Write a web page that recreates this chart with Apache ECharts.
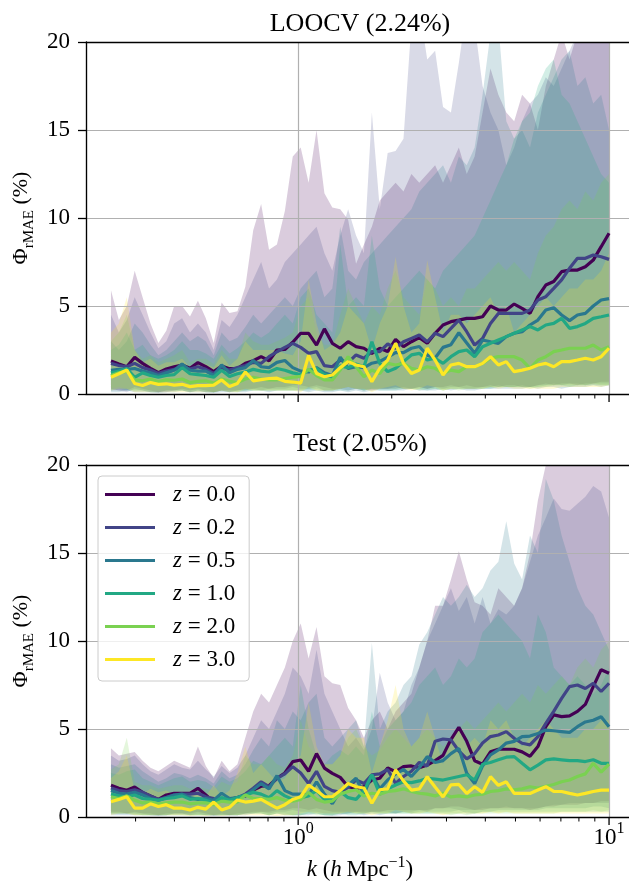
<!DOCTYPE html>
<html>
<head>
<meta charset="utf-8">
<title>rMAE versus k</title>
<script src="https://cdn.jsdelivr.net/npm/echarts@6/dist/echarts.min.js"></script>
<style>
  html, body { margin: 0; padding: 0; background: #ffffff; overflow: hidden; }
  #chart { width: 640px; height: 888px; }
</style>
</head>
<body>
<div id="chart"></div>
<script>
// Wavenumbers k in h/Mpc (64 log-spaced bins from 0.25 to 10)
const kValues = [
  0.2500, 0.2651, 0.2811, 0.2980, 0.3160, 0.3350, 0.3552, 0.3766,
  0.3993, 0.4234, 0.4489, 0.4760, 0.5047, 0.5351, 0.5674, 0.6016,
  0.6378, 0.6763, 0.7170, 0.7603, 0.8061, 0.8547, 0.9063, 0.9609,
  1.0191, 1.0806, 1.1458, 1.2148, 1.2881, 1.3658, 1.4481, 1.5355,
  1.6281, 1.7263, 1.8304, 1.9408, 2.0578, 2.1819, 2.3135, 2.4530,
  2.6010, 2.7578, 2.9242, 3.1005, 3.2875, 3.4857, 3.6960, 3.9188,
  4.1552, 4.4058, 4.6715, 4.9532, 5.2519, 5.5686, 5.9044, 6.2605,
  6.6380, 7.0383, 7.4628, 7.9128, 8.3900, 8.8960, 9.4325, 10.0000
];

const redshiftNames = ['z = 0.0', 'z = 0.2', 'z = 0.5', 'z = 1.0', 'z = 2.0', 'z = 3.0'];
const redshiftColors = ['#440154', '#414487', '#2a788e', '#22a884', '#7ad151', '#fde725'];

const panelTitles = ['LOOCV (2.24%)', 'Test (2.05%)'];

// x tick positions (log axis)
const xMajorTicks = [1, 10];
const xMinorTicks = [0.3, 0.4, 0.5, 0.6, 0.7, 0.8, 0.9, 2, 3, 4, 5, 6, 7, 8, 9];

// ---------- LOOCV: mean rMAE per redshift (%) ----------
const loocvZ00 = [
  1.88, 1.70, 1.55, 2.08, 1.74, 1.46, 1.21, 1.42,
  1.55, 1.65, 1.46, 1.78, 1.55, 1.27, 1.59, 1.44,
  1.44, 1.74, 1.89, 2.12, 1.89, 2.50, 2.53, 2.94,
  3.45, 3.45, 2.78, 3.70, 2.88, 2.60, 2.97, 2.69,
  2.60, 2.31, 2.60, 2.41, 3.10, 2.69, 2.97, 3.20,
  2.88, 3.45, 3.92, 4.11, 4.20, 4.30, 4.30, 4.39,
  5.00, 4.77, 4.77, 5.11, 4.87, 4.58, 5.53, 6.19,
  6.39, 6.95, 7.04, 7.04, 7.23, 7.61, 8.37, 9.13
];
const loocvZ02 = [
  1.74, 1.62, 1.55, 1.74, 1.50, 1.36, 1.17, 1.30,
  1.40, 1.50, 1.42, 1.55, 1.40, 1.17, 1.45, 1.36,
  1.50, 1.62, 1.80, 1.74, 2.12, 2.40, 2.65, 2.88,
  2.65, 2.31, 2.41, 1.61, 1.55, 1.93, 1.78, 2.22,
  2.03, 2.41, 2.41, 2.84, 2.60, 2.97, 3.16, 3.35,
  2.97, 3.45, 3.26, 3.73, 4.20, 3.54, 2.78, 3.16,
  4.01, 4.58, 4.58, 4.58, 4.58, 4.77, 5.34, 5.53,
  6.00, 6.48, 7.14, 7.71, 7.71, 7.90, 7.80, 7.65
];
const loocvZ05 = [
  1.35, 1.40, 1.40, 1.45, 1.30, 1.20, 1.05, 1.20,
  1.35, 1.70, 1.35, 1.30, 1.30, 1.05, 1.65, 1.20,
  1.40, 1.50, 1.90, 1.55, 1.50, 1.80, 1.90, 1.50,
  1.30, 1.25, 1.50, 1.20, 1.05, 2.10, 1.45, 1.55,
  1.50, 1.75, 1.85, 2.10, 2.35, 2.35, 2.60, 2.70,
  2.20, 2.05, 2.65, 2.80, 3.48, 2.90, 2.31, 3.07,
  2.97, 2.88, 3.26, 3.45, 3.54, 3.92, 4.20, 4.77,
  4.90, 4.49, 4.17, 4.49, 4.58, 5.00, 5.34, 5.42
];
const loocvZ10 = [
  1.20, 1.30, 1.45, 0.95, 1.20, 1.05, 0.95, 1.05,
  1.10, 1.50, 1.15, 1.10, 1.05, 0.95, 1.35, 1.00,
  1.15, 1.25, 1.40, 1.30, 1.25, 1.45, 1.35, 1.20,
  1.10, 1.35, 1.45, 1.10, 0.95, 1.60, 1.50, 1.70,
  1.55, 2.97, 1.74, 1.27, 1.46, 1.84, 2.22, 2.31,
  1.93, 2.03, 1.74, 2.12, 2.41, 2.50, 2.12, 2.69,
  2.88, 3.07, 3.26, 3.45, 3.64, 3.83, 3.64, 3.92,
  4.01, 4.30, 3.73, 3.83, 4.01, 4.30, 4.39, 4.49
];
const loocvZ20 = [
  1.05, 1.20, 1.30, 0.80, 0.75, 0.85, 0.70, 0.80,
  0.78, 0.85, 0.65, 0.72, 0.75, 0.62, 0.85, 0.72,
  0.65, 0.85, 0.95, 0.85, 0.80, 0.80, 0.88, 0.95,
  1.00, 1.40, 1.05, 0.80, 0.80, 1.36, 2.12, 1.55,
  0.98, 1.36, 1.17, 1.74, 1.65, 1.74, 1.46, 1.36,
  1.55, 1.46, 1.17, 1.36, 1.27, 1.55, 1.55, 1.74,
  2.03, 2.12, 2.12, 2.12, 1.93, 1.46, 1.93, 2.12,
  2.41, 2.50, 2.60, 2.60, 2.60, 2.78, 2.50, 2.69
];
const loocvZ30 = [
  0.95, 1.15, 1.36, 0.60, 0.48, 0.65, 0.55, 0.58,
  0.50, 0.55, 0.42, 0.48, 0.48, 0.50, 0.80, 0.42,
  0.60, 1.25, 0.75, 0.82, 0.88, 0.90, 0.72, 0.68,
  0.62, 2.20, 1.17, 0.98, 1.08, 1.50, 1.84, 1.65,
  1.55, 0.70, 1.46, 1.93, 2.88, 1.74, 1.17, 1.36,
  2.60, 1.93, 1.08, 1.65, 1.74, 1.55, 1.55, 1.74,
  2.12, 1.65, 1.84, 1.27, 1.36, 1.46, 1.65, 1.74,
  1.55, 1.84, 1.84, 1.93, 2.03, 1.93, 2.12, 2.60
];

// LOOCV: upper edge of the spread per redshift (%)
const loocvHiZ00 = [
  5.9, 4.2, 5.0, 7.0, 5.5, 4.0, 2.9, 3.6,
  5.0, 5.0, 4.4, 5.3, 4.3, 2.9, 5.2, 4.6,
  4.7, 6.1, 9.3, 10.8, 8.2, 8.5, 10.4, 13.5,
  14.0, 12.0, 15.0, 11.4, 10.6, 10.5, 9.9, 7.4,
  8.5, 9.5, 11.0, 11.5, 12.0, 11.5, 12.5, 12.0,
  12.5, 13.0, 12.0, 13.0, 14.0, 12.5, 13.5, 16.0,
  18.5, 17.0, 16.0, 15.5, 17.0, 16.5, 15.0, 17.5,
  19.0, 20.5, 19.0, 20.5, 22.0, 21.0, 23.0, 24.0
];
const loocvHiZ02 = [
  4.5, 3.5, 4.2, 5.5, 4.5, 3.5, 2.6, 3.0,
  4.0, 4.3, 3.5, 4.0, 3.5, 2.5, 4.2, 3.8,
  4.5, 5.5, 6.5, 7.5, 6.0, 6.5, 7.5, 8.0,
  8.5, 9.0, 9.5, 8.0, 7.0, 9.0, 10.5, 9.0,
  8.0, 16.0, 10.5, 13.7, 13.8, 14.5, 21.0, 22.0,
  19.0, 19.5, 16.3, 16.0, 18.8, 22.0, 21.0, 17.5,
  16.0, 15.0, 13.0, 14.0, 15.5, 16.5, 17.0, 18.0,
  17.5, 18.5, 19.5, 20.5, 21.0, 22.0, 22.0, 21.0
];
const loocvHiZ05 = [
  3.0, 2.5, 3.0, 4.0, 3.5, 2.8, 2.2, 2.5,
  3.0, 3.5, 3.0, 3.3, 3.0, 2.2, 3.5, 3.0,
  3.2, 3.8, 4.5, 4.0, 4.5, 5.0, 5.5, 5.0,
  6.0, 6.5, 7.0, 5.5, 6.0, 9.5, 7.0, 6.5,
  7.5, 8.0, 8.5, 9.0, 9.5, 10.0, 10.5, 11.5,
  12.0, 12.5, 13.0, 12.0, 13.5, 13.0, 14.0, 17.0,
  20.5, 21.0, 15.5, 14.5, 15.0, 14.0, 16.0, 17.0,
  18.0, 19.0, 19.5, 17.5, 18.0, 16.5, 17.0, 15.0
];
const loocvHiZ10 = [
  2.5, 2.8, 3.5, 2.5, 2.8, 2.2, 2.0, 2.2,
  2.5, 3.0, 2.5, 2.5, 2.3, 2.0, 2.8, 2.3,
  2.6, 3.0, 3.5, 3.2, 3.5, 4.0, 4.5, 4.0,
  5.5, 6.0, 4.5, 4.0, 3.5, 8.5, 5.0, 5.5,
  5.0, 9.0, 6.0, 5.0, 5.5, 6.0, 6.5, 7.0,
  6.5, 6.0, 7.0, 7.5, 8.0, 8.5, 9.0, 10.0,
  11.0, 12.0, 13.0, 14.5, 15.5, 16.0, 17.5, 18.5,
  19.0, 17.0, 16.5, 15.5, 14.5, 13.5, 12.5, 12.0
];
const loocvHiZ20 = [
  3.0, 3.5, 4.5, 2.5, 2.0, 2.2, 1.8, 2.0,
  2.2, 2.5, 1.8, 2.0, 2.0, 1.7, 2.5, 2.0,
  2.0, 3.5, 3.0, 2.8, 2.8, 3.0, 3.2, 3.5,
  5.0, 5.5, 3.5, 2.8, 2.8, 4.5, 6.0, 5.0,
  4.0, 5.0, 4.5, 6.0, 7.0, 5.5, 5.0, 4.5,
  6.5, 6.0, 5.0, 5.5, 5.0, 6.0, 6.0, 6.5,
  7.0, 7.5, 7.0, 7.5, 7.0, 6.5, 8.0, 9.0,
  9.5, 10.5, 11.0, 10.5, 11.5, 11.0, 12.0, 12.5
];
const loocvHiZ30 = [
  3.5, 4.0, 5.5, 2.5, 1.8, 2.0, 1.6, 1.8,
  1.8, 2.0, 1.5, 1.8, 1.7, 1.5, 2.2, 1.6,
  2.0, 3.0, 2.5, 2.5, 2.5, 2.5, 2.3, 2.2,
  3.0, 6.5, 4.0, 2.5, 2.8, 3.5, 5.0, 4.5,
  4.0, 2.5, 4.0, 5.0, 7.8, 5.0, 3.5, 4.0,
  7.6, 5.5, 3.5, 4.5, 4.5, 4.0, 4.5, 5.0,
  5.5, 4.5, 5.0, 3.5, 4.0, 4.5, 5.0, 5.5,
  5.0, 5.5, 6.0, 6.0, 6.5, 6.5, 7.0, 8.0
];

// LOOCV: lower edge of the spread per redshift (%)
const loocvLoZ00 = [
  0.3, 0.2, 0.2, 0.4, 0.3, 0.2, 0.1, 0.2,
  0.2, 0.3, 0.2, 0.3, 0.2, 0.1, 0.2, 0.2,
  0.2, 0.3, 0.3, 0.4, 0.3, 0.4, 0.4, 0.5,
  0.5, 0.4, 0.5, 0.4, 0.3, 0.3, 0.4, 0.3,
  0.3, 0.2, 0.3, 0.3, 0.4, 0.3, 0.3, 0.4,
  0.3, 0.4, 0.4, 0.5, 0.4, 0.5, 0.4, 0.4,
  0.5, 0.4, 0.5, 0.5, 0.4, 0.4, 0.5, 0.6,
  0.5, 0.6, 0.6, 0.5, 0.6, 0.6, 0.7, 0.7
];
const loocvLoZ02 = [
  0.2, 0.2, 0.1, 0.3, 0.2, 0.1, 0.1, 0.1,
  0.2, 0.2, 0.1, 0.2, 0.1, 0.1, 0.2, 0.1,
  0.2, 0.2, 0.3, 0.2, 0.3, 0.3, 0.3, 0.4,
  0.3, 0.3, 0.4, 0.2, 0.2, 0.3, 0.2, 0.3,
  0.2, 0.3, 0.3, 0.3, 0.3, 0.4, 0.3, 0.4,
  0.3, 0.4, 0.3, 0.4, 0.4, 0.3, 0.3, 0.4,
  0.4, 0.5, 0.4, 0.4, 0.5, 0.4, 0.5, 0.5,
  0.6, 0.5, 0.6, 0.6, 0.5, 0.6, 0.6, 0.6
];
const loocvLoZ05 = [
  0.10, 0.10, 0.20, 0.10, 0.10, 0.10, 0.05, 0.10,
  0.10, 0.20, 0.10, 0.10, 0.10, 0.05, 0.10, 0.10,
  0.10, 0.10, 0.20, 0.20, 0.10, 0.20, 0.20, 0.20,
  0.20, 0.10, 0.20, 0.10, 0.10, 0.20, 0.10, 0.20,
  0.10, 0.20, 0.20, 0.20, 0.20, 0.20, 0.30, 0.20,
  0.20, 0.20, 0.30, 0.20, 0.30, 0.20, 0.20, 0.30,
  0.30, 0.30, 0.30, 0.30, 0.30, 0.40, 0.30, 0.40,
  0.40, 0.30, 0.40, 0.40, 0.40, 0.50, 0.40, 0.50
];
const loocvLoZ10 = [
  0.2, 0.3, 0.2, 0.2, 0.2, 0.1, 0.1, 0.2,
  0.2, 0.2, 0.1, 0.2, 0.1, 0.1, 0.2, 0.1,
  0.2, 0.2, 0.2, 0.2, 0.2, 0.2, 0.2, 0.2,
  0.2, 0.2, 0.3, 0.2, 0.2, 0.2, 0.2, 0.3,
  0.2, 0.3, 0.2, 0.2, 0.2, 0.3, 0.3, 0.3,
  0.2, 0.3, 0.2, 0.3, 0.3, 0.3, 0.3, 0.3,
  0.3, 0.4, 0.4, 0.4, 0.4, 0.4, 0.4, 0.5,
  0.5, 0.5, 0.4, 0.5, 0.5, 0.5, 0.5, 0.5
];
const loocvLoZ20 = [
  0.3, 0.4, 0.3, 0.2, 0.2, 0.2, 0.2, 0.2,
  0.2, 0.2, 0.2, 0.2, 0.2, 0.1, 0.2, 0.2,
  0.1, 0.2, 0.2, 0.2, 0.2, 0.2, 0.2, 0.2,
  0.2, 0.3, 0.2, 0.2, 0.2, 0.3, 0.4, 0.3,
  0.2, 0.3, 0.3, 0.3, 0.3, 0.3, 0.3, 0.2,
  0.3, 0.3, 0.2, 0.3, 0.2, 0.3, 0.3, 0.3,
  0.4, 0.4, 0.4, 0.4, 0.4, 0.3, 0.4, 0.4,
  0.5, 0.5, 0.5, 0.5, 0.5, 0.6, 0.5, 0.5
];
const loocvLoZ30 = [
  0.2, 0.3, 0.3, 0.1, 0.1, 0.1, 0.1, 0.1,
  0.1, 0.1, 0.1, 0.1, 0.1, 0.1, 0.2, 0.1,
  0.1, 0.3, 0.2, 0.2, 0.2, 0.2, 0.2, 0.2,
  0.1, 0.4, 0.2, 0.2, 0.2, 0.3, 0.4, 0.3,
  0.3, 0.1, 0.3, 0.4, 0.5, 0.3, 0.2, 0.3,
  0.5, 0.4, 0.2, 0.3, 0.3, 0.3, 0.3, 0.3,
  0.4, 0.3, 0.4, 0.3, 0.3, 0.3, 0.3, 0.3,
  0.3, 0.4, 0.4, 0.4, 0.4, 0.4, 0.4, 0.5
];

// ---------- Test set: mean rMAE per redshift (%) ----------
const testZ00 = [
  1.80, 1.63, 1.52, 1.70, 1.40, 1.20, 1.00, 1.25,
  1.35, 1.34, 1.35, 1.63, 1.25, 0.85, 1.05, 0.95,
  1.10, 1.20, 1.53, 1.75, 1.78, 2.20, 2.50, 3.15,
  3.24, 2.60, 3.60, 2.78, 2.48, 2.25, 1.72, 1.63,
  1.72, 2.10, 2.20, 2.78, 2.58, 2.86, 2.90, 2.80,
  2.95, 3.20, 3.50, 4.40, 5.10, 4.30, 3.20, 3.00,
  3.70, 3.85, 3.85, 3.85, 3.70, 3.45, 4.00, 5.13,
  5.80, 5.70, 5.75, 6.00, 6.40, 7.41, 8.37, 8.17
];
const testZ02 = [
  1.65, 1.50, 1.45, 1.55, 1.40, 1.20, 1.00, 1.10,
  1.25, 1.30, 1.30, 1.35, 1.15, 1.05, 1.00, 1.00,
  1.10, 1.30, 1.63, 2.00, 1.72, 2.20, 2.45, 2.86,
  2.50, 1.90, 2.60, 1.74, 1.50, 1.40, 1.70, 2.10,
  1.90, 2.40, 2.45, 2.70, 1.90, 2.30, 2.60, 3.10,
  2.90, 4.30, 4.43, 4.38, 3.75, 3.30, 3.60, 4.20,
  4.57, 4.66, 4.85, 4.47, 4.19, 4.10, 4.57, 5.32,
  6.00, 6.74, 7.41, 7.50, 7.30, 7.60, 7.13, 7.60
];
const testZ05 = [
  1.50, 1.35, 1.30, 1.40, 1.25, 1.05, 0.95, 1.10,
  1.25, 1.30, 1.10, 1.00, 1.05, 0.95, 1.35, 1.05,
  1.10, 1.20, 1.55, 1.90, 1.60, 2.35, 1.50, 1.30,
  1.30, 1.25, 2.00, 1.30, 0.75, 1.50, 1.80, 2.20,
  1.30, 2.40, 1.60, 2.10, 2.45, 2.70, 2.30, 2.80,
  3.43, 3.10, 3.20, 3.60, 3.90, 2.48, 1.90, 2.90,
  3.53, 3.81, 4.20, 4.30, 4.57, 4.60, 4.75, 4.94,
  4.90, 4.85, 4.80, 5.13, 5.40, 5.50, 5.70, 5.13
];
const testZ10 = [
  1.30, 1.20, 1.15, 1.25, 1.05, 1.00, 0.95, 1.05,
  1.10, 1.20, 1.00, 1.05, 0.95, 0.80, 1.10, 0.95,
  1.10, 1.25, 1.40, 1.30, 1.10, 1.50, 1.20, 1.00,
  1.10, 1.20, 1.50, 1.00, 1.05, 1.45, 1.10, 1.00,
  1.50, 2.40, 1.30, 1.60, 1.82, 2.00, 1.95, 2.05,
  2.20, 2.15, 2.10, 2.20, 2.30, 2.40, 2.10, 3.00,
  3.10, 3.25, 3.40, 3.43, 3.05, 2.68, 2.95, 3.25,
  3.30, 3.25, 3.20, 3.20, 3.15, 3.25, 3.05, 3.05
];
const testZ20 = [
  1.15, 1.05, 1.20, 0.95, 0.80, 0.85, 0.75, 0.80,
  0.85, 0.85, 0.75, 0.80, 0.80, 0.70, 0.90, 0.85,
  0.85, 1.25, 1.05, 1.05, 1.00, 1.10, 0.95, 0.90,
  1.00, 1.40, 1.00, 0.85, 0.90, 1.30, 1.45, 1.55,
  1.20, 1.35, 1.30, 1.45, 1.50, 1.60, 1.45, 1.35,
  1.30, 1.20, 1.35, 1.14, 1.20, 1.14, 1.25, 1.30,
  1.45, 1.50, 1.60, 1.55, 1.60, 1.72, 1.65, 1.75,
  1.85, 2.00, 2.10, 2.30, 2.45, 3.05, 2.55, 3.00
];
const testZ30 = [
  0.87, 1.00, 1.15, 0.50, 0.50, 0.75, 0.60, 0.70,
  0.50, 0.50, 0.40, 0.55, 0.45, 0.85, 0.40, 0.55,
  0.97, 0.85, 0.90, 1.00, 0.75, 0.50, 0.70, 1.00,
  1.15, 1.82, 1.50, 1.15, 1.15, 1.50, 1.90, 1.72,
  1.65, 0.78, 1.55, 1.60, 2.68, 2.05, 1.53, 1.60,
  2.29, 1.70, 1.14, 1.82, 1.85, 1.34, 1.72, 1.40,
  2.29, 1.80, 2.00, 1.34, 1.34, 1.34, 1.53, 1.72,
  1.45, 1.45, 1.34, 1.25, 1.34, 1.45, 1.53, 1.53
];

// Test set: upper edge of the spread per redshift (%)
const testHiZ00 = [
  3.9, 3.5, 3.6, 3.7, 3.2, 2.8, 2.6, 2.9,
  3.2, 3.0, 2.8, 4.0, 2.9, 2.2, 3.2, 2.6,
  3.0, 4.5, 6.0, 7.0, 6.5, 7.5, 8.5, 10.0,
  11.0, 9.0, 10.8, 8.0, 7.6, 7.5, 6.2, 5.5,
  4.5, 5.5, 6.0, 5.0, 6.0, 6.5, 7.0, 8.5,
  10.0, 12.0, 12.0, 13.5, 15.1, 13.5, 12.2, 12.0,
  11.5, 13.0, 12.5, 12.0, 13.0, 15.0, 18.0, 20.0,
  21.0, 22.0, 23.0, 24.0, 25.0, 24.0, 23.0, 22.0
];
const testHiZ02 = [
  3.5, 3.2, 3.3, 3.5, 3.0, 2.6, 2.4, 2.7,
  3.0, 2.8, 2.7, 3.2, 2.7, 2.3, 2.9, 2.5,
  2.8, 3.5, 4.5, 5.5, 5.0, 6.0, 7.0, 8.5,
  8.0, 7.0, 9.5, 7.0, 6.0, 5.0, 4.0, 4.5,
  3.8, 5.0, 8.2, 6.5, 5.5, 6.0, 7.5, 8.5,
  10.0, 11.0, 12.0, 13.0, 11.7, 12.5, 11.0, 12.5,
  11.0, 11.8, 11.5, 12.0, 13.0, 14.5, 16.0, 17.0,
  18.1, 17.5, 17.4, 17.8, 18.2, 18.8, 18.5, 17.0
];
const testHiZ05 = [
  3.0, 2.8, 2.9, 3.0, 2.6, 2.3, 2.0, 2.2,
  2.5, 2.4, 2.2, 2.4, 2.2, 1.9, 2.6, 2.2,
  2.4, 3.0, 3.8, 4.5, 4.0, 5.5, 5.0, 6.0,
  5.5, 6.5, 7.0, 4.5, 4.0, 4.5, 5.0, 5.5,
  4.0, 9.9, 5.0, 6.0, 6.5, 7.5, 8.0, 9.8,
  10.5, 11.5, 12.5, 12.0, 12.5, 13.2, 12.5, 13.0,
  14.0, 14.5, 16.8, 14.4, 13.5, 16.0, 15.0, 19.2,
  18.0, 16.0, 14.5, 13.0, 12.0, 11.5, 10.5, 9.5
];
const testHiZ10 = [
  2.5, 2.4, 2.6, 2.7, 2.2, 2.0, 1.8, 2.0,
  2.2, 2.3, 2.0, 2.1, 2.0, 1.7, 2.3, 2.0,
  2.2, 2.6, 3.2, 3.0, 3.5, 4.0, 4.5, 4.0,
  7.5, 5.0, 3.5, 3.0, 3.5, 3.8, 3.5, 4.0,
  3.5, 6.0, 4.0, 5.0, 5.5, 6.0, 6.5, 7.5,
  8.0, 8.5, 7.5, 8.0, 9.0, 8.5, 9.0, 10.5,
  11.0, 11.5, 11.0, 10.5, 10.0, 9.0, 11.5, 10.5,
  8.5, 8.0, 7.5, 8.0, 7.5, 7.0, 7.5, 8.5
];
const testHiZ20 = [
  2.7, 3.0, 4.5, 2.0, 1.8, 1.8, 1.6, 1.7,
  1.8, 1.8, 1.6, 1.7, 1.6, 1.5, 2.0, 1.8,
  2.0, 3.5, 3.0, 3.0, 3.5, 3.0, 2.8, 3.5,
  5.5, 4.0, 3.5, 3.0, 3.0, 3.5, 4.5, 5.0,
  4.0, 3.5, 3.8, 4.5, 5.0, 4.5, 4.0, 4.5,
  5.0, 4.5, 4.0, 4.5, 5.0, 5.5, 5.0, 5.5,
  6.0, 6.5, 6.0, 6.5, 7.0, 6.5, 7.5, 7.0,
  7.5, 8.0, 7.5, 8.5, 9.0, 8.5, 9.5, 10.0
];
const testHiZ30 = [
  2.2, 2.6, 3.5, 1.5, 1.3, 1.6, 1.4, 1.5,
  1.3, 1.4, 1.2, 1.4, 1.2, 1.8, 1.2, 1.5,
  2.5, 4.0, 2.5, 3.0, 2.5, 2.0, 2.2, 3.0,
  3.5, 6.5, 4.0, 3.0, 3.0, 3.5, 5.0, 4.5,
  4.5, 2.5, 4.0, 5.5, 7.5, 5.0, 4.0, 4.5,
  6.0, 4.5, 3.0, 4.5, 5.0, 4.0, 4.5, 4.0,
  5.5, 5.0, 5.5, 4.5, 4.0, 4.5, 5.0, 5.5,
  5.0, 4.5, 4.5, 4.5, 5.0, 5.0, 5.5, 5.5
];

// Test set: lower edge of the spread per redshift (%)
const testLoZ00 = [
  0.3, 0.3, 0.2, 0.3, 0.2, 0.2, 0.1, 0.2,
  0.2, 0.2, 0.2, 0.3, 0.2, 0.1, 0.2, 0.1,
  0.2, 0.2, 0.3, 0.3, 0.3, 0.4, 0.4, 0.5,
  0.5, 0.4, 0.5, 0.4, 0.3, 0.3, 0.3, 0.3,
  0.3, 0.3, 0.3, 0.4, 0.4, 0.4, 0.4, 0.4,
  0.4, 0.5, 0.5, 0.6, 0.6, 0.5, 0.4, 0.4,
  0.5, 0.5, 0.5, 0.5, 0.5, 0.4, 0.5, 0.6,
  0.6, 0.7, 0.7, 0.7, 0.8, 0.8, 0.9, 0.9
];
const testLoZ02 = [
  0.2, 0.2, 0.2, 0.2, 0.2, 0.1, 0.1, 0.1,
  0.2, 0.2, 0.1, 0.2, 0.1, 0.1, 0.1, 0.1,
  0.1, 0.2, 0.2, 0.3, 0.2, 0.3, 0.3, 0.4,
  0.3, 0.3, 0.3, 0.2, 0.2, 0.2, 0.2, 0.3,
  0.2, 0.3, 0.3, 0.3, 0.2, 0.3, 0.3, 0.4,
  0.3, 0.5, 0.5, 0.5, 0.4, 0.4, 0.4, 0.5,
  0.5, 0.5, 0.6, 0.5, 0.5, 0.5, 0.5, 0.6,
  0.7, 0.7, 0.8, 0.8, 0.8, 0.8, 0.8, 0.8
];
const testLoZ05 = [
  0.10, 0.10, 0.10, 0.10, 0.10, 0.10, 0.05, 0.10,
  0.10, 0.10, 0.10, 0.10, 0.10, 0.05, 0.10, 0.10,
  0.10, 0.10, 0.20, 0.20, 0.10, 0.20, 0.10, 0.10,
  0.10, 0.10, 0.20, 0.10, 0.05, 0.10, 0.20, 0.20,
  0.10, 0.20, 0.10, 0.20, 0.20, 0.30, 0.20, 0.30,
  0.30, 0.30, 0.30, 0.30, 0.40, 0.20, 0.20, 0.30,
  0.30, 0.40, 0.40, 0.40, 0.40, 0.40, 0.40, 0.50,
  0.50, 0.50, 0.50, 0.50, 0.50, 0.60, 0.60, 0.50
];
const testLoZ10 = [
  0.2, 0.2, 0.2, 0.2, 0.1, 0.1, 0.1, 0.1,
  0.2, 0.2, 0.1, 0.1, 0.1, 0.1, 0.1, 0.1,
  0.1, 0.2, 0.2, 0.2, 0.1, 0.2, 0.2, 0.1,
  0.1, 0.2, 0.2, 0.1, 0.1, 0.2, 0.1, 0.1,
  0.2, 0.3, 0.2, 0.2, 0.2, 0.2, 0.2, 0.2,
  0.2, 0.2, 0.2, 0.2, 0.2, 0.3, 0.2, 0.3,
  0.3, 0.3, 0.3, 0.3, 0.3, 0.3, 0.3, 0.3,
  0.3, 0.3, 0.3, 0.3, 0.3, 0.3, 0.3, 0.3
];
const testLoZ20 = [
  0.2, 0.2, 0.2, 0.1, 0.1, 0.1, 0.1, 0.1,
  0.1, 0.1, 0.1, 0.1, 0.1, 0.1, 0.1, 0.1,
  0.1, 0.2, 0.2, 0.2, 0.1, 0.2, 0.1, 0.1,
  0.1, 0.2, 0.1, 0.1, 0.1, 0.2, 0.2, 0.2,
  0.2, 0.2, 0.2, 0.2, 0.2, 0.2, 0.2, 0.2,
  0.2, 0.2, 0.2, 0.1, 0.2, 0.1, 0.2, 0.2,
  0.2, 0.2, 0.2, 0.2, 0.2, 0.2, 0.2, 0.2,
  0.2, 0.3, 0.3, 0.3, 0.3, 0.4, 0.3, 0.4
];
const testLoZ30 = [
  0.10, 0.20, 0.20, 0.10, 0.10, 0.10, 0.10, 0.10,
  0.10, 0.10, 0.05, 0.10, 0.05, 0.10, 0.05, 0.10,
  0.10, 0.10, 0.10, 0.10, 0.10, 0.05, 0.10, 0.10,
  0.20, 0.30, 0.20, 0.20, 0.20, 0.20, 0.30, 0.20,
  0.20, 0.10, 0.20, 0.20, 0.40, 0.30, 0.20, 0.20,
  0.30, 0.20, 0.10, 0.20, 0.20, 0.20, 0.20, 0.20,
  0.30, 0.20, 0.30, 0.20, 0.20, 0.20, 0.20, 0.20,
  0.20, 0.20, 0.20, 0.20, 0.20, 0.20, 0.20, 0.20
];

// ---------- assembly ----------
const panels = [
  {
    mean: [loocvZ00, loocvZ02, loocvZ05, loocvZ10, loocvZ20, loocvZ30],
    hi: [loocvHiZ00, loocvHiZ02, loocvHiZ05, loocvHiZ10, loocvHiZ20, loocvHiZ30],
    lo: [loocvLoZ00, loocvLoZ02, loocvLoZ05, loocvLoZ10, loocvLoZ20, loocvLoZ30]
  },
  {
    mean: [testZ00, testZ02, testZ05, testZ10, testZ20, testZ30],
    hi: [testHiZ00, testHiZ02, testHiZ05, testHiZ10, testHiZ20, testHiZ30],
    lo: [testLoZ00, testLoZ02, testLoZ05, testLoZ10, testLoZ20, testLoZ30]
  }
];

const SERIF = '"Liberation Serif", "Times New Roman", serif';
const GRID_GRAY = '#b0b0b0';
const K_MIN = 0.2078;
const K_MAX = 12.03;
// the axes run a little past the right edge of the page, so the
// chart canvas is wider than the visible window
const gridBoxes = [
  { left: 86, top: 42, width: 548, height: 352 },
  { left: 86, top: 465, width: 548, height: 352 }
];

function withAlpha(hex, a) {
  const n = parseInt(hex.slice(1), 16);
  return 'rgba(' + ((n >> 16) & 255) + ',' + ((n >> 8) & 255) + ',' + (n & 255) + ',' + a + ')';
}

function bandSeries(p, j) {
  const lo = panels[p].lo[j];
  const hi = panels[p].hi[j];
  return {
    type: 'custom',
    name: 'spread ' + redshiftNames[j],
    coordinateSystem: 'cartesian2d',
    xAxisIndex: p * 2,
    yAxisIndex: p,
    data: kValues.map((k, i) => [k, lo[i], hi[i]]),
    encode: { x: 0, y: [1, 2] },
    clip: true,
    silent: true,
    z: 1,
    renderItem: function (params, api) {
      if (params.dataIndex !== 0) return null;
      const upper = kValues.map((k, i) => api.coord([k, hi[i]]));
      const lower = kValues.map((k, i) => api.coord([k, lo[i]])).reverse();
      return {
        type: 'polygon',
        shape: { points: upper.concat(lower) },
        style: { fill: withAlpha(redshiftColors[j], 0.2), stroke: null }
      };
    }
  };
}

function lineSeries(p, j) {
  const vals = panels[p].mean[j];
  return {
    type: 'line',
    name: redshiftNames[j],
    xAxisIndex: p * 2,
    yAxisIndex: p,
    data: kValues.map((k, i) => [k, vals[i]]),
    showSymbol: false,
    symbol: 'none',
    lineStyle: { color: redshiftColors[j], width: 3.2 },
    itemStyle: { color: redshiftColors[j] },
    silent: true,
    z: 3
  };
}

function tickSeries(p) {
  const ticks = xMajorTicks.map(k => [k, 0, 1]).concat(xMinorTicks.map(k => [k, 0, 0]));
  return {
    type: 'custom',
    coordinateSystem: 'cartesian2d',
    xAxisIndex: p * 2,
    yAxisIndex: p,
    data: ticks,
    encode: { x: 0, y: 1 },
    silent: true,
    z: 6,
    renderItem: function (params, api) {
      const base = api.coord([api.value(0), 0]);
      const major = api.value(2) === 1;
      return {
        type: 'line',
        shape: { x1: base[0], y1: base[1], x2: base[0], y2: base[1] + (major ? 8 : 4.5) },
        style: { stroke: '#000', lineWidth: major ? 1.3 : 1 }
      };
    }
  };
}

const xAxes = [];
const yAxes = [];
gridBoxes.forEach((g, p) => {
  xAxes.push({
    gridIndex: p,
    type: 'log',
    logBase: 10,
    position: 'bottom',
    min: K_MIN,
    max: K_MAX,
    z: 2,
    axisLine: { show: true, onZero: false, lineStyle: { color: '#000', width: 1.3 } },
    axisTick: { show: false },
    minorTick: { show: false },
    axisLabel: {
      show: p === 1,
      margin: 4,
      color: '#000',
      formatter: function (v) {
        if (Math.abs(v - 1) < 1e-6) return '{n|10}{s|0}';
        if (Math.abs(v - 10) < 1e-6) return '{n|10}{s|1}';
        return '';
      },
      rich: {
        n: { fontFamily: SERIF, fontSize: 23, lineHeight: 28, verticalAlign: 'bottom', color: '#000' },
        s: { fontFamily: SERIF, fontSize: 16, lineHeight: 16, verticalAlign: 'top', color: '#000' }
      }
    },
    splitLine: { show: true, lineStyle: { color: GRID_GRAY, width: 1.2 } },
    name: p === 1 ? '{i|k}{n| (}{i|h}{n|\u2009Mpc}{s|\u22121}{n|)}' : '',
    nameLocation: 'middle',
    nameGap: 38,
    nameTextStyle: {
      color: '#000',
      rich: {
        i: { fontFamily: SERIF, fontStyle: 'italic', fontSize: 23, lineHeight: 30, verticalAlign: 'middle', color: '#000' },
        n: { fontFamily: SERIF, fontSize: 23, lineHeight: 30, verticalAlign: 'middle', color: '#000' },
        s: { fontFamily: SERIF, fontSize: 16, lineHeight: 15, verticalAlign: 'top', color: '#000' }
      }
    }
  });
  // top spine
  xAxes.push({
    gridIndex: p,
    type: 'log',
    logBase: 10,
    position: 'top',
    min: K_MIN,
    max: K_MAX,
    z: 5,
    axisLine: { show: true, onZero: false, lineStyle: { color: '#000', width: 1.3 } },
    axisTick: { show: false },
    axisLabel: { show: false },
    splitLine: { show: false }
  });
  yAxes.push({
    gridIndex: p,
    type: 'value',
    min: 0,
    max: 20,
    interval: 5,
    z: 2,
    axisLine: { show: true, onZero: false, lineStyle: { color: '#000', width: 1.3 } },
    axisTick: { show: true, inside: false, length: 8, lineStyle: { color: '#000', width: 1.3 } },
    axisLabel: { margin: 16, fontFamily: SERIF, fontSize: 23, color: '#000' },
    splitLine: { show: true, lineStyle: { color: GRID_GRAY, width: 1.2 } },
    name: '{a|\u03A6}{b|rMAE}{a| (%)}',
    nameLocation: 'middle',
    nameRotate: 90,
    nameGap: 46,
    nameTextStyle: {
      color: '#000',
      rich: {
        a: { fontFamily: SERIF, fontSize: 22, lineHeight: 30, verticalAlign: 'middle', color: '#000' },
        b: { fontFamily: SERIF, fontSize: 15, lineHeight: 15, verticalAlign: 'bottom', color: '#000' }
      }
    }
  });
});

const series = [];
panels.forEach((panel, p) => {
  redshiftNames.forEach((_, j) => series.push(bandSeries(p, j)));
  redshiftNames.forEach((_, j) => series.push(lineSeries(p, j)));
  series.push(tickSeries(p));
});

const chart = echarts.init(document.getElementById('chart'), null, { renderer: 'canvas', width: 640, height: 888 });
chart.setOption({
  animation: false,
  backgroundColor: '#ffffff',
  grid: gridBoxes.map(g => Object.assign({ containLabel: false }, g)),
  xAxis: xAxes,
  yAxis: yAxes,
  graphic: panelTitles.map((t, p) => ({
    type: 'text',
    x: 360,
    y: p === 0 ? 24 : 444,
    z: 10,
    style: {
      text: t,
      font: '26px ' + SERIF,
      fill: '#000',
      textAlign: 'center',
      textVerticalAlign: 'middle',
      align: 'center',
      verticalAlign: 'middle'
    }
  })),
  legend: {
    data: redshiftNames,
    orient: 'vertical',
    left: 98,
    top: 476,
    padding: [7, 14, 10, 7],
    itemWidth: 50,
    itemHeight: 3,
    itemGap: 10,
    icon: 'rect',
    backgroundColor: 'rgba(255,255,255,0.8)',
    borderColor: '#cccccc',
    borderWidth: 1,
    borderRadius: 4,
    selectedMode: false,
    z: 20,
    formatter: function (name) {
      return '{i|z}{n| = ' + name.split('= ')[1] + '}';
    },
    textStyle: {
      fontFamily: SERIF,
      fontSize: 23,
      color: '#000',
      padding: [0, 0, 0, 13],
      rich: {
        i: { fontFamily: SERIF, fontStyle: 'italic', fontSize: 23, color: '#000' },
        n: { fontFamily: SERIF, fontSize: 23, color: '#000' }
      }
    }
  },
  series: series
});
</script>
</body>
</html>
